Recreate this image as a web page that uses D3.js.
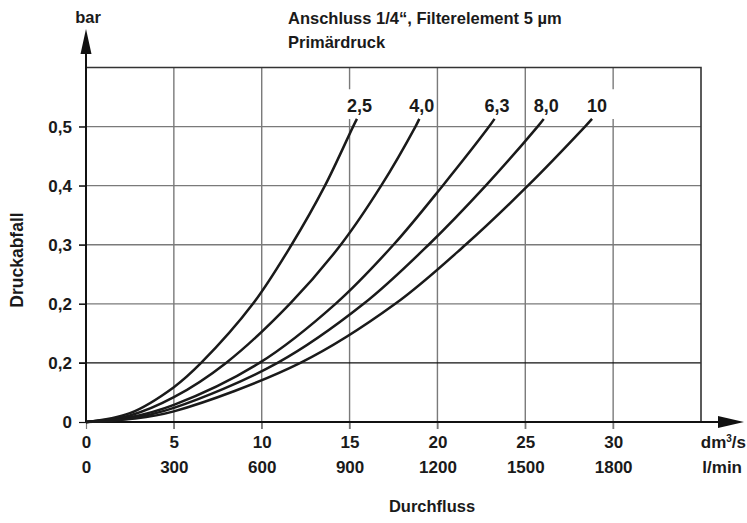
<!DOCTYPE html>
<html>
<head>
<meta charset="utf-8">
<script src="https://cdn.jsdelivr.net/npm/d3@7"></script>
<style>
  body { margin: 0; background: #fff; }
  svg text { font-family: "Liberation Sans", Arial, Helvetica, sans-serif; font-weight: bold; fill: #1a1a1a; }
</style>
</head>
<body>
<div id="chart"></div>
<script>
// pressure drop curves, one per primary pressure (bar)
const seriesNames = ["2,5", "4,0", "6,3", "8,0", "10"];

const flow25 = [0, 2.5, 5, 6.55, 9.5, 11.7, 13.6, 15.2, 15.42];
const drop25 = [0, 0.015, 0.059, 0.1, 0.2, 0.3, 0.4, 0.5, 0.513];

const flow40 = [0, 2.5, 5, 7.97, 11.6, 14.5, 16.8, 18.75, 18.97];
const drop40 = [0, 0.011, 0.042, 0.1, 0.2, 0.3, 0.4, 0.5, 0.513];

const flow63 = [0, 2.5, 5, 9.87, 14.2, 17.5, 20.3, 22.94, 23.25];
const drop63 = [0, 0.008, 0.029, 0.1, 0.2, 0.3, 0.4, 0.5, 0.513];

const flow80 = [0, 2.5, 5, 10.9, 15.8, 19.5, 22.75, 25.7, 26.05];
const drop80 = [0, 0.006, 0.024, 0.1, 0.2, 0.3, 0.4, 0.5, 0.513];

const flow100 = [0, 2.5, 5, 12.2, 17.6, 21.6, 25.15, 28.4, 28.8];
const drop100 = [0, 0.005, 0.018, 0.1, 0.2, 0.3, 0.4, 0.5, 0.513];

const xTicks = [0, 5, 10, 15, 20, 25, 30];
const xLabelsDm = ["0", "5", "10", "15", "20", "25", "30"];
const xLabelsLmin = ["0", "300", "600", "900", "1200", "1500", "1800"];
const yTicks = [0, 0.1, 0.2, 0.3, 0.4, 0.5];
const yLabels = ["0", "0,2", "0,2", "0,3", "0,4", "0,5"];

const width = 747;
const height = 523;
const margin = { top: 67.5, right: 46, bottom: 101, left: 86 };

const svg = d3.select("#chart")
  .append("svg")
  .attr("width", width)
  .attr("height", height);

const x = d3.scaleLinear()
  .domain([0, 35])
  .range([margin.left, width - margin.right]);

const y = d3.scaleLinear()
  .domain([0, 0.6])
  .range([height - margin.bottom, margin.top]);

// vertical grid, two lines are broken behind the curve labels
const broken = [15, 30];
const grid = svg.append("g");
xTicks.slice(1).forEach(v => {
  const segs = broken.includes(v)
    ? [[0, 0.513], [0.575, 0.6]]
    : [[0, 0.6]];
  segs.forEach(s => {
    grid.append("line")
      .attr("x1", x(v)).attr("x2", x(v))
      .attr("y1", y(s[0]) + 7).attr("y2", y(s[1]))
      .attr("stroke", "#7a7a7a")
      .attr("stroke-width", 1.4);
  });
});

// horizontal grid
yTicks.slice(1).forEach(v => {
  grid.append("line")
    .attr("x1", x(0) - 7).attr("x2", x(35))
    .attr("y1", y(v)).attr("y2", y(v))
    .attr("stroke", v === 0.1 ? "#111" : "#7a7a7a")
    .attr("stroke-width", v === 0.1 ? 1.1 : 1.4);
});

// frame top and right
svg.append("path")
  .attr("d", `M${x(0)},${y(0.6)}H${x(35)}V${y(0)}`)
  .attr("fill", "none")
  .attr("stroke", "#333")
  .attr("stroke-width", 1.6);

// y axis labels
svg.append("g")
  .attr("transform", `translate(${x(0)},0)`)
  .call(d3.axisLeft(y)
    .tickValues(yTicks)
    .tickFormat((d, i) => yLabels[i])
    .tickSize(7)
    .tickPadding(7))
  .call(g => g.select(".domain").remove())
  .call(g => g.selectAll("line").attr("stroke", "#111").attr("stroke-width", 1.2))
  .call(g => g.selectAll("text").attr("font-size", "17px").attr("font-family", null));

// x axis labels, two rows
svg.append("g")
  .attr("transform", `translate(0,${y(0)})`)
  .call(d3.axisBottom(x)
    .tickValues(xTicks)
    .tickFormat((d, i) => xLabelsDm[i])
    .tickSize(7)
    .tickPadding(7))
  .call(g => g.select(".domain").remove())
  .call(g => g.selectAll("line").attr("stroke", "#7a7a7a").attr("stroke-width", 1.2))
  .call(g => g.selectAll("text").attr("font-size", "17px").attr("font-family", null));

svg.append("g")
  .attr("transform", `translate(0,${y(0)})`)
  .call(d3.axisBottom(x)
    .tickValues(xTicks)
    .tickFormat((d, i) => xLabelsLmin[i])
    .tickSize(0)
    .tickPadding(39))
  .call(g => g.select(".domain").remove())
  .call(g => g.selectAll("text").attr("font-size", "17px").attr("font-family", null));

// axes with arrows
svg.append("line")
  .attr("x1", x(0)).attr("x2", 720)
  .attr("y1", y(0)).attr("y2", y(0))
  .attr("stroke", "#111").attr("stroke-width", 2);
svg.append("path")
  .attr("d", `M744,${y(0)}L718,${y(0) - 6}L718,${y(0) + 6}Z`)
  .attr("fill", "#111");
svg.append("line")
  .attr("x1", x(0)).attr("x2", x(0))
  .attr("y1", y(0)).attr("y2", 52)
  .attr("stroke", "#111").attr("stroke-width", 2);
svg.append("path")
  .attr("d", `M${x(0)},29L${x(0) - 5.5},54L${x(0) + 5.5},54Z`)
  .attr("fill", "#111");

// curves
const series = [
  { name: seriesNames[0], xs: flow25, ys: drop25 },
  { name: seriesNames[1], xs: flow40, ys: drop40 },
  { name: seriesNames[2], xs: flow63, ys: drop63 },
  { name: seriesNames[3], xs: flow80, ys: drop80 },
  { name: seriesNames[4], xs: flow100, ys: drop100 }
];

const line = d3.line()
  .x(d => x(d[0]))
  .y(d => y(d[1]))
  .curve(d3.curveCatmullRom.alpha(0.5));

svg.append("g")
  .selectAll("path")
  .data(series)
  .join("path")
  .attr("d", s => line(s.xs.map((v, i) => [v, s.ys[i]])))
  .attr("fill", "none")
  .attr("stroke", "#1a1a1a")
  .attr("stroke-width", 2.5);

// curve labels
svg.append("g")
  .selectAll("text")
  .data(series)
  .join("text")
  .attr("x", s => x(s.xs[s.xs.length - 1]) + 15)
  .attr("y", 112)
  .attr("text-anchor", "end")
  .attr("font-size", "18px")
  .text(s => s.name);

// titles
svg.append("text")
  .attr("x", 288).attr("y", 24)
  .attr("font-size", "16.5px")
  .text("Anschluss 1/4“, Filterelement 5 µm");
svg.append("text")
  .attr("x", 288).attr("y", 48)
  .attr("font-size", "16.5px")
  .text("Primärdruck");
svg.append("text")
  .attr("x", x(0) + 2).attr("y", 23)
  .attr("text-anchor", "middle")
  .attr("font-size", "16.5px")
  .text("bar");
svg.append("text")
  .attr("transform", "translate(23,260) rotate(-90)")
  .attr("text-anchor", "middle")
  .attr("font-size", "17.5px")
  .text("Druckabfall");
svg.append("text")
  .attr("x", 432).attr("y", 512)
  .attr("text-anchor", "middle")
  .attr("font-size", "16.5px")
  .text("Durchfluss");

// unit labels
svg.append("text")
  .attr("x", 746).attr("y", 448)
  .attr("text-anchor", "end")
  .attr("font-size", "17px")
  .html("dm<tspan font-size='10px' dy='-6'>3</tspan><tspan dy='6'>/s</tspan>");
svg.append("text")
  .attr("x", 742).attr("y", 473)
  .attr("text-anchor", "end")
  .attr("font-size", "17px")
  .text("l/min");
</script>
</body>
</html>
